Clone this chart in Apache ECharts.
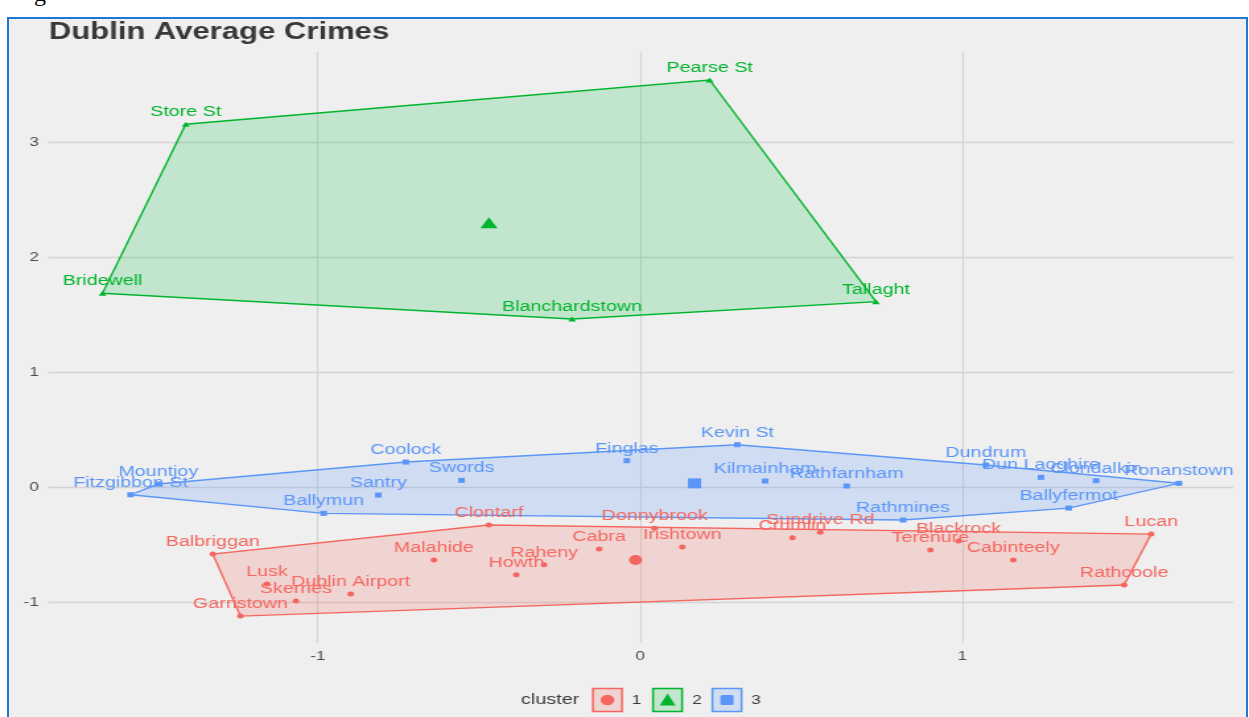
<!DOCTYPE html>
<html>
<head>
<meta charset="utf-8">
<script src="https://cdn.jsdelivr.net/npm/echarts@6/dist/echarts.min.js"></script>
<style>
  html, body { margin: 0; padding: 0; background: #fff; width: 1249px; height: 717px; overflow: hidden; position: relative; }
  #frame { position: absolute; left: 7px; top: 17px; width: 1241px; height: 730px; box-sizing: border-box;
           border: 2.5px solid #1f78d4; background: #efefef; }
  #cut { position: absolute; left: 34px; top: -19px; font: 24px/1 'Liberation Serif', serif; color: #000; }
  /* the plot is laid out in a narrower box and widened horizontally */
  #chart { position: absolute; left: 0; top: 0; width: 946px; height: 717px;
           transform: scaleX(1.3203); transform-origin: 0 0; }
</style>
</head>
<body>
<div id="frame"></div>
<div id="cut">g</div>
<div id="chart"></div>
<script>
// ---- data: k-means clusters of Dublin Garda stations (first two principal components) ----
const cluster1Names = ['Balbriggan', 'Lusk', 'Skerries', 'Dublin Airport', 'Garristown', 'Malahide', 'Clontarf',
  'Howth', 'Raheny', 'Cabra', 'Donnybrook', 'Irishtown', 'Crumlin', 'Sundrive Rd', 'Terenure', 'Blackrock',
  'Cabinteely', 'Lucan', 'Rathcoole'];
const cluster1X = [-1.326, -1.158, -1.068, -0.898, -1.240, -0.640, -0.469, -0.384, -0.298, -0.127, 0.045, 0.131,
  0.473, 0.559, 0.901, 0.988, 1.158, 1.586, 1.502];
const cluster1Y = [-0.583, -0.843, -0.991, -0.930, -1.122, -0.635, -0.330, -0.762, -0.675, -0.539, -0.359, -0.522,
  -0.441, -0.394, -0.548, -0.470, -0.635, -0.409, -0.852];

const cluster2Names = ['Store St', 'Pearse St', 'Bridewell', 'Blanchardstown', 'Tallaght'];
const cluster2X = [-1.410, 0.216, -1.668, -0.211, 0.732];
const cluster2Y = [3.154, 3.539, 1.684, 1.461, 1.611];

const cluster3Names = ['Fitzgibbon St', 'Mountjoy', 'Coolock', 'Swords', 'Santry', 'Ballymun', 'Finglas', 'Kevin St',
  'Kilmainham', 'Rathfarnham', 'Rathmines', 'Dundrum', 'Dun Laoghire', 'Clondalkin', 'Ronanstown', 'Ballyfermot'];
const cluster3X = [-1.581, -1.495, -0.727, -0.554, -0.812, -0.982, -0.041, 0.302, 0.388, 0.641, 0.816, 1.073,
  1.244, 1.415, 1.672, 1.330];
const cluster3Y = [-0.067, 0.026, 0.217, 0.058, -0.070, -0.229, 0.229, 0.368, 0.052, 0.009, -0.287, 0.191,
  0.084, 0.055, 0.032, -0.183];

// cluster centres (cluster 1, 2, 3)
const centerX = [-0.014, -0.469, 0.169];
const centerY = [-0.635, 2.298, 0.032];

const clusterLabels = ['1', '2', '3'];
const xTicks = [-1, 0, 1];
const yTicks = [-1, 0, 1, 2, 3];
const xRange = [-1.837, 1.840];
const yRange = [-1.356, 3.782];

// ---- styling ----
const FONT = "'Liberation Sans', Arial, Helvetica, sans-serif";
const colors = ['#f4665f', '#00b52e', '#5b96f7'];
const fills = ['rgba(248,118,109,0.22)', 'rgba(0,186,56,0.19)', 'rgba(97,156,255,0.22)'];
const symbols = ['circle', 'triangle', 'rect'];
const pointSizes = [5, [6, 5], 5];
const centerSizes = [10, [13, 11], 10];

const clusters = [
  { names: cluster1Names, xs: cluster1X, ys: cluster1Y },
  { names: cluster2Names, xs: cluster2X, ys: cluster2Y },
  { names: cluster3Names, xs: cluster3X, ys: cluster3Y }
];

// convex hull (monotone chain) around the points of one cluster
function convexHull(pts) {
  const p = pts.slice().sort((a, b) => a[0] - b[0] || a[1] - b[1]);
  const cross = (o, a, b) => (a[0] - o[0]) * (b[1] - o[1]) - (a[1] - o[1]) * (b[0] - o[0]);
  const lower = [];
  for (const q of p) {
    while (lower.length >= 2 && cross(lower[lower.length - 2], lower[lower.length - 1], q) <= 0) lower.pop();
    lower.push(q);
  }
  const upper = [];
  for (let i = p.length - 1; i >= 0; i--) {
    const q = p[i];
    while (upper.length >= 2 && cross(upper[upper.length - 2], upper[upper.length - 1], q) <= 0) upper.pop();
    upper.push(q);
  }
  upper.pop(); lower.pop();
  return lower.concat(upper);
}

const series = [];

// hull polygons
clusters.forEach((c, i) => {
  const pts = c.xs.map((x, k) => [x, c.ys[k]]);
  const hull = convexHull(pts);
  series.push({
    type: 'custom',
    name: 'hull' + clusterLabels[i],
    coordinateSystem: 'cartesian2d',
    z: 1,
    silent: true,
    data: [[centerX[i], centerY[i]]],
    renderItem: (params, api) => ({
      type: 'polygon',
      shape: { points: hull.map(p => api.coord(p)) },
      style: { fill: fills[i], stroke: colors[i], lineWidth: 1.4 }
    })
  });
});

// station points with their names
clusters.forEach((c, i) => {
  series.push({
    type: 'scatter',
    name: clusterLabels[i],
    z: 3,
    symbol: symbols[i],
    symbolSize: pointSizes[i],
    itemStyle: { color: colors[i], opacity: 1 },
    label: {
      show: true,
      position: 'top',
      distance: 2,
      formatter: p => p.name,
      color: colors[i],
      fontSize: 14.9,
      fontFamily: FONT
    },
    labelLayout: { hideOverlap: false },
    data: c.names.map((n, k) => ({ name: n, value: [c.xs[k], c.ys[k]] }))
  });
});

// cluster centres
clusters.forEach((c, i) => {
  series.push({
    type: 'scatter',
    name: 'centre' + clusterLabels[i],
    z: 4,
    symbol: symbols[i],
    symbolSize: centerSizes[i],
    itemStyle: { color: colors[i], opacity: 1 },
    data: [[centerX[i], centerY[i]]]
  });
});

// legend: "cluster" title plus boxed keys
const legendY = 700;
const keyCx = [460.1, 505.6, 550.6];
const keyTextX = [482.1, 527.9, 572.6];
const legendGraphics = [{
  type: 'text', x: 394.6, y: legendY,
  style: { text: 'cluster', fill: '#3a3a3a', font: '15px ' + FONT, verticalAlign: 'middle' }
}];
clusterLabels.forEach((lab, i) => {
  const cx = keyCx[i];
  legendGraphics.push({
    type: 'rect',
    shape: { x: cx - 11, y: legendY - 11.5, width: 22, height: 23 },
    style: { fill: fills[i], stroke: colors[i], lineWidth: 1.5 }
  });
  if (i === 0) {
    legendGraphics.push({ type: 'circle', shape: { cx: cx, cy: legendY, r: 5.2 }, style: { fill: colors[i] } });
  } else if (i === 1) {
    legendGraphics.push({ type: 'polygon',
      shape: { points: [[cx, legendY - 6.5], [cx + 6, legendY + 5.5], [cx - 6, legendY + 5.5]] },
      style: { fill: colors[i] } });
  } else {
    legendGraphics.push({ type: 'rect', shape: { x: cx - 5, y: legendY - 5, width: 10, height: 10, r: 1.5 },
      style: { fill: colors[i] } });
  }
  legendGraphics.push({
    type: 'text', x: keyTextX[i], y: legendY,
    style: { text: lab, fill: '#3a3a3a', font: '13px ' + FONT, align: 'center', verticalAlign: 'middle' }
  });
});

const chart = echarts.init(document.getElementById('chart'), null, { renderer: 'canvas', width: 946, height: 717 });
chart.setOption({
  animation: false,
  backgroundColor: 'transparent',
  textStyle: { fontFamily: FONT },
  title: {
    text: 'Dublin Average Crimes',
    left: 37,
    top: 21,
    padding: 0,
    textStyle: { fontSize: 23.5, fontWeight: 'bold', color: '#383838', fontFamily: FONT }
  },
  grid: { left: 36.4, right: 12.1, top: 52, bottom: 74, containLabel: false, outerBoundsMode: 'none' },
  xAxis: {
    type: 'value',
    min: xRange[0],
    max: xRange[1],
    axisLine: { show: false },
    axisTick: { show: false, customValues: xTicks },
    axisLabel: { customValues: xTicks, margin: 7, color: '#4d4d4d', fontSize: 13, fontFamily: FONT },
    splitLine: { show: true, lineStyle: { color: '#d3d3d3', width: 1.1 } }
  },
  yAxis: {
    type: 'value',
    min: yRange[0],
    max: yRange[1],
    axisLine: { show: false },
    axisTick: { show: false, customValues: yTicks },
    axisLabel: { customValues: yTicks, margin: 7, color: '#4d4d4d', fontSize: 13, fontFamily: FONT },
    splitLine: { show: true, lineStyle: { color: '#d3d3d3', width: 1.3 } }
  },
  graphic: legendGraphics,
  series: series
});
</script>
</body>
</html>
